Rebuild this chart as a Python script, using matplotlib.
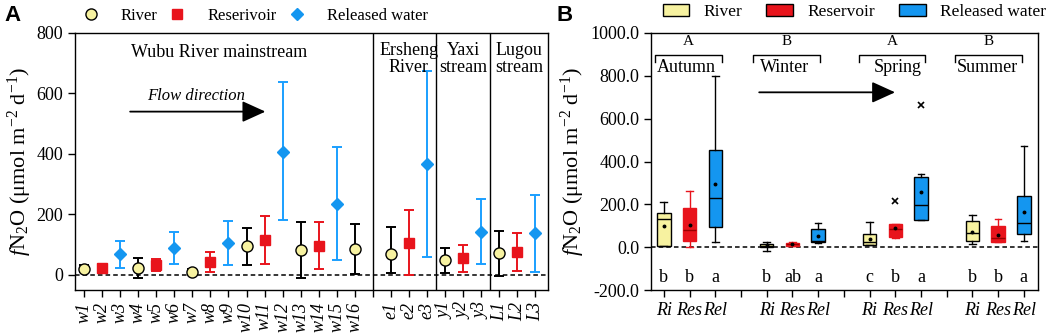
import matplotlib
matplotlib.use("Agg")
import matplotlib.pyplot as plt
from matplotlib.lines import Line2D
from matplotlib.patches import Patch

plt.rcParams["font.family"] = ["Liberation Serif", "DejaVu Serif"]
plt.rcParams["mathtext.fontset"] = "custom"
plt.rcParams["mathtext.rm"] = "Liberation Serif"
plt.rcParams["mathtext.it"] = "Liberation Serif:italic"
plt.rcParams["font.size"] = 13

# ---------------------------------------------------------------------------
# Panel A data: mean fN2O per site with error range
# ---------------------------------------------------------------------------
site_labels = ["w1", "w2", "w3", "w4", "w5", "w6", "w7", "w8", "w9", "w10",
               "w11", "w12", "w13", "w14", "w15", "w16", "",
               "e1", "e2", "e3", "y1", "y2", "y3", "L1", "L2", "L3"]

river_sites = ["w1", "w4", "w7", "w10", "w13", "w16", "e1", "y1", "L1"]
river_mean = [20, 24, 11, 96, 83, 87, 68, 48, 72]
river_lo = [9, -9, 3, 34, -9, 4, 5, 5, -3]
river_hi = [32, 55, 18, 154, 176, 168, 159, 88, 145]

res_sites = ["w2", "w5", "w8", "w11", "w14", "e2", "y2", "L2"]
res_mean = [24, 33, 42, 116, 97, 106, 57, 76]
res_lo = [6, 13, 8, 37, 20, 0, 9, 13]
res_hi = [36, 53, 75, 196, 176, 213, 100, 138]

rel_sites = ["w3", "w6", "w9", "w12", "w15", "e3", "y3", "L3"]
rel_mean = [68, 88, 105, 408, 234, 367, 143, 138]
rel_lo = [23, 35, 32, 182, 49, 60, 35, 10]
rel_hi = [113, 141, 178, 637, 422, 674, 252, 264]

# ---------------------------------------------------------------------------
# Panel B data: seasonal box statistics (Ri, Res, Rel per season)
# ---------------------------------------------------------------------------
seasons = ["Autumn", "Winter", "Spring", "Summer"]
season_letters = ["A", "B", "A", "B"]
groups = ["Ri", "Res", "Rel"]
box_q1 = [7, 31, 92, 2, 6, 23, 11, 47, 129, 28, 23, 61]
box_med = [131, 81, 229, 7, 13, 31, 26, 84, 195, 68, 43, 114]
box_q3 = [159, 185, 456, 14, 20, 84, 61, 107, 327, 120, 98, 241]
box_lo = [5, 3, 25, -16, 5, 19, 8, 43, 129, 17, 23, 31]
box_hi = [213, 262, 800, 26, 22, 112, 117, 110, 343, 152, 131, 473]
box_mean = [100, 104, 297, 9, 13, 50, 39, 89, 258, 71, 55, 166]
box_fliers = [[], [], [], [], [], [], [], [215], [662], [], [], []]
box_letters = ["b", "b", "a", "b", "ab", "a", "c", "b", "a", "b", "b", "a"]

YELLOW = "#f7f2a0"
RED = "#e8141c"
BLUE = "#1496f0"
BLUE_BAR = "#1a9fff"

YLABEL = r"$\mathit{f}$N$_2$O (μmol m$^{-2}$ d$^{-1}$)"

fig = plt.figure(figsize=(10.52, 3.34), dpi=100)
axA = fig.add_axes([0.0713, 0.1317, 0.4496, 0.7695])
axB = fig.add_axes([0.6188, 0.1317, 0.3679, 0.7695])

# ----------------------------- panel A -------------------------------------
pos = {s: i for i, s in enumerate(site_labels) if s}


def draw_series(sites, mean, lo, hi, marker, face, edge, bar, ms):
    x = [pos[s] for s in sites]
    err = [[m - l for m, l in zip(mean, lo)], [h - m for m, h in zip(mean, hi)]]
    axA.errorbar(x, mean, yerr=err, fmt="none", ecolor=bar, elinewidth=1.4,
                 capsize=3.5, capthick=1.4, zorder=2)
    axA.plot(x, mean, linestyle="none", marker=marker, markersize=ms,
             markerfacecolor=face, markeredgecolor=edge, markeredgewidth=1.0,
             zorder=3)


draw_series(river_sites, river_mean, river_lo, river_hi, "o", YELLOW, "black", "black", 8)
draw_series(res_sites, res_mean, res_lo, res_hi, "s", RED, RED, RED, 6.5)
draw_series(rel_sites, rel_mean, rel_lo, rel_hi, "D", BLUE, BLUE, BLUE_BAR, 6.5)

axA.axhline(0, color="black", linestyle=(0, (3, 2)), linewidth=1.1, zorder=1)
for xv in (16, 19.5, 22.5):
    axA.axvline(xv, color="black", linewidth=1.0)

axA.set_xlim(-0.5, 25.7)
axA.set_ylim(-50, 800)
axA.set_yticks([0, 200, 400, 600, 800])
axA.set_xticks(range(len(site_labels)))
axA.set_xticklabels(site_labels, rotation=90, fontstyle="italic", fontsize=14)
axA.set_ylabel(YLABEL, fontsize=16, labelpad=2)
axA.tick_params(direction="out", length=5, width=1.0, labelsize=13)

axA.text(7.5, 737, "Wubu River mainstream", ha="center", va="center")
axA.text(18, 714, "Ersheng\nRiver", ha="center", va="center", linespacing=1.0)
axA.text(21, 714, "Yaxi\nstream", ha="center", va="center", linespacing=1.0)
axA.text(24.1, 714, "Lugou\nstream", ha="center", va="center", linespacing=1.0)
axA.text(6.2, 592, "Flow direction", ha="center", va="center",
         fontstyle="italic", fontsize=12)
axA.annotate("", xy=(10.2, 540), xytext=(2.4, 540),
             arrowprops=dict(arrowstyle="-|>,head_length=1.1,head_width=0.5",
                             color="black", lw=1.3))

handlesA = [
    Line2D([], [], linestyle="none", marker="o", markersize=8,
           markerfacecolor=YELLOW, markeredgecolor="black"),
    Line2D([], [], linestyle="none", marker="s", markersize=6.5,
           markerfacecolor=RED, markeredgecolor=RED),
    Line2D([], [], linestyle="none", marker="D", markersize=6.5,
           markerfacecolor=BLUE, markeredgecolor=BLUE),
]
fig.legend(handlesA, ["River", "Reserivoir", "Released water"], ncol=3,
           loc="center", bbox_to_anchor=(0.2424, 0.952), frameon=False,
           handlelength=1.0, handletextpad=1.3, columnspacing=0.7, fontsize=12)

# ----------------------------- panel B -------------------------------------
face_cols = [YELLOW, RED, BLUE]
edge_cols = ["black", RED, "black"]
stats, xs, faces, edges = [], [], [], []
for si in range(len(seasons)):
    for gi in range(len(groups)):
        k = si * 3 + gi
        stats.append(dict(q1=box_q1[k], med=box_med[k], q3=box_q3[k],
                          whislo=box_lo[k], whishi=box_hi[k],
                          mean=box_mean[k], fliers=box_fliers[k]))
        xs.append(si * 4 + gi)
        faces.append(face_cols[gi])
        edges.append(edge_cols[gi])

for st, x, fc, ec in zip(stats, xs, faces, edges):
    axB.bxp([st], positions=[x], widths=0.52, patch_artist=True,
            showmeans=True, showfliers=True,
            boxprops=dict(facecolor=fc, edgecolor=ec, linewidth=1.0),
            medianprops=dict(color="black" if ec == "black" else "#9a0000", linewidth=1.0),
            whiskerprops=dict(color=ec, linewidth=1.0),
            capprops=dict(color=ec, linewidth=1.0),
            meanprops=dict(marker="o", markersize=1.8, markerfacecolor="black",
                           markeredgecolor="black"),
            flierprops=dict(marker="x", markersize=5, markeredgecolor="black",
                            markeredgewidth=1.2))

for x, lab in zip(xs, box_letters):
    axB.text(x, -140, lab, ha="center", va="center", fontsize=13)

bracket_centers = [0.97, 4.78, 8.87, 12.64]
name_centers = [0.88, 4.68, 9.1, 12.57]
for c, nc, name, let in zip(bracket_centers, name_centers, seasons, season_letters):
    axB.plot([c - 1.3, c - 1.3, c + 1.3, c + 1.3], [865, 895, 895, 865],
             color="black", linewidth=1.0)
    axB.text(c, 960, let, ha="center", va="center", fontsize=11)
    axB.text(nc, 840, name, ha="center", va="center", fontsize=13)

axB.annotate("", xy=(9.1, 723), xytext=(3.6, 723),
             arrowprops=dict(arrowstyle="-|>,head_length=1.1,head_width=0.5",
                             color="black", lw=1.3))
axB.axhline(0, color="black", linestyle=(0, (3, 2)), linewidth=1.1, zorder=0)

axB.set_xlim(-0.5, 14.55)
axB.set_ylim(-200, 1000)
axB.set_yticks(range(-200, 1001, 200))
axB.set_yticklabels([f"{v:.1f}" for v in range(-200, 1001, 200)])
axB.set_xticks(range(15))
axB.set_xticklabels(["" if i % 4 == 3 else groups[i % 4] for i in range(15)],
                    fontstyle="italic", fontsize=14)
axB.set_ylabel(YLABEL, fontsize=16, labelpad=2)
axB.tick_params(direction="out", length=5, width=1.0, labelsize=13)

handlesB = [Patch(facecolor=c, edgecolor="black", linewidth=1.0) for c in face_cols]
fig.legend(handlesB, ["River", "Reservoir", "Released water"], ncol=3,
           loc="center", bbox_to_anchor=(0.812, 0.965), frameon=False,
           handlelength=1.55, handleheight=0.7, handletextpad=0.8,
           columnspacing=1.4, fontsize=12.5)

for ax in (axA, axB):
    for sp in ax.spines.values():
        sp.set_linewidth(1.0)

fig.text(0.004, 0.955, "A", fontsize=16, fontweight="bold",
         family="Liberation Sans", va="center")
fig.text(0.529, 0.955, "B", fontsize=16, fontweight="bold",
         family="Liberation Sans", va="center")

fig.savefig("out.png", dpi=100)
